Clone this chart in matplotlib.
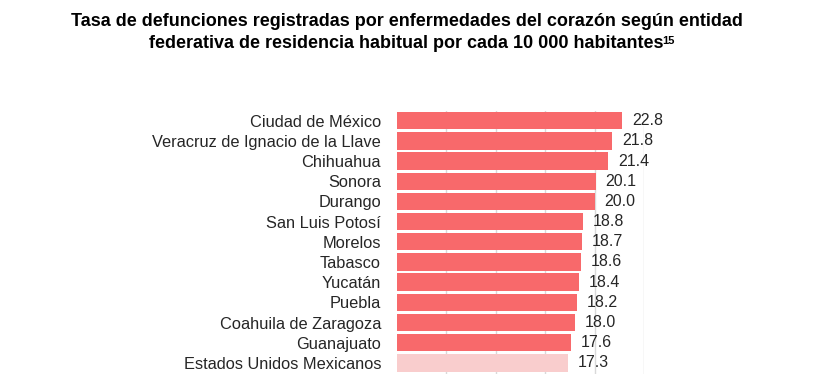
import matplotlib.pyplot as plt

plt.rcParams['font.family'] = ['Liberation Sans', 'DejaVu Sans']

# datos
entidades = ['Ciudad de México', 'Veracruz de Ignacio de la Llave', 'Chihuahua',
             'Sonora', 'Durango', 'San Luis Potosí', 'Morelos', 'Tabasco',
             'Yucatán', 'Puebla', 'Coahuila de Zaragoza', 'Guanajuato',
             'Estados Unidos Mexicanos']
tasas = [22.8, 21.8, 21.4, 20.1, 20.0, 18.8, 18.7, 18.6, 18.4, 18.2, 18.0, 17.6, 17.3]
colores = ['#F8696B'] * 12 + ['#F9CDCD']

fig = plt.figure(figsize=(8.13, 3.74), dpi=100)
ax = fig.add_axes([397 / 813, -2 / 374, (644 - 397) / 813, (376 - 110.6) / 374])

pos = list(range(len(entidades)))
ax.barh(pos, tasas, height=0.86, color=colores, zorder=2)
ax.set_xlim(0, 25)
ax.set_ylim(len(entidades) - 0.5 + 0.15, -0.5)
ax.set_xticks([5, 10, 15, 20, 25])
ax.xaxis.grid(True, color='#D9D9D9', linewidth=1, zorder=0)
ax.tick_params(axis='x', bottom=False, labelbottom=False)
ax.tick_params(axis='y', left=False, pad=8)
ax.set_yticks(pos)
ax.set_yticklabels(entidades, fontsize=11.8, color='#262626')
for s in ax.spines.values():
    s.set_visible(False)

for p, v in zip(pos, tasas):
    ax.annotate(f'{v:.1f}', xy=(v, p), xytext=(7, 0), textcoords='offset points',
                ha='left', va='center', fontsize=11.5, color='#262626', clip_on=False)

# titulo
fig.text(0.5, 1 - 22 / 374, 'Tasa de defunciones registradas por enfermedades del corazón según entidad',
         ha='center', va='center', fontsize=12.95, fontweight='bold')
t2 = fig.text(0.5, 1 - 43 / 374, 'federativa de residencia habitual por cada 10 000 habitantes',
              ha='center', va='center', fontsize=12.95, fontweight='bold')
ax.annotate('15', xy=(0.998, 0.92), xycoords=t2, ha='left', va='top',
            fontsize=8, fontweight='bold', annotation_clip=False)

fig.savefig('out.png', dpi=100)
